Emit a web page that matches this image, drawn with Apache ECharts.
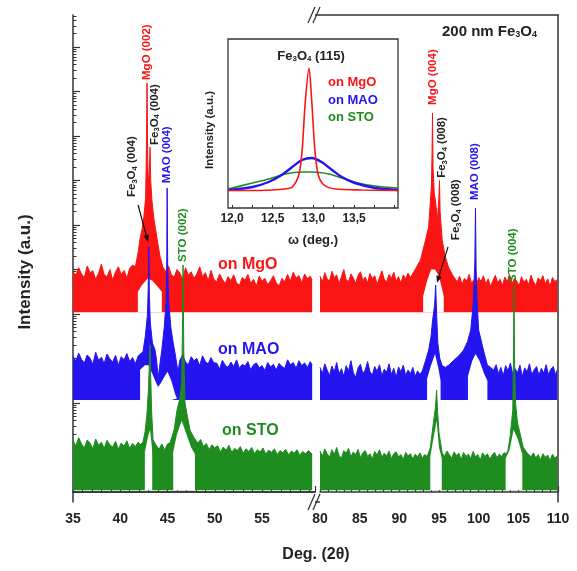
<!DOCTYPE html>
<html>
<head>
<meta charset="utf-8">
<script src="https://cdn.jsdelivr.net/npm/echarts@6.0.0/dist/echarts.min.js"></script>
<style>
  html, body { margin: 0; padding: 0; background: #fff; }
  #chart { width: 577px; height: 571px; }
</style>
</head>
<body>
<div id="chart"></div>
<script>
// XRD 2theta scans, intensity on a log scale: y values are decades (log10 of counts, offset per film)
// each trace: upper edge of the noisy band, and the hollow under the peaks (lower edge)

const redFloor = 4.04
const blueFloor = 2.07
const greenFloor = 0.04

const redLeft = [[35.0,4.95],[35.3,4.86],[35.6,5.04],[35.9,4.90],[36.2,4.82],[36.5,5.08],[36.8,4.93],[37.1,4.97],[37.4,4.78],[37.7,4.91],[38.0,5.12],[38.3,4.88],[38.6,4.84],[38.9,5.00],[39.2,4.76],[39.5,4.95],[39.8,5.06],[40.1,4.89],[40.4,4.98],[40.7,4.81],[41.0,5.03],[41.3,5.10],[41.6,5.06],
  [41.9,5.40],[42.1,5.70],[42.3,5.90],[42.5,6.20],[42.68,6.60],[42.77,7.70],[42.83,9.19],[42.9,7.50],[42.98,6.95],[43.08,7.20],[43.15,7.75],[43.22,7.00],[43.35,6.55],[43.55,6.15],[43.8,5.82],[44.0,5.55],[44.2,5.30],[44.5,5.06],
  [44.8,4.95],[45.1,5.08],[45.4,4.88],[45.7,4.83],[46.0,5.00],[46.3,4.92],[46.6,4.78],[46.9,5.04],[47.2,4.87],[47.5,4.95],[47.8,4.80],[48.1,4.90],[48.4,5.06],[48.7,4.84],[49.0,4.93],[49.3,4.75],[49.6,4.98],[49.9,4.78],[50.2,4.72],[50.5,4.90],[50.8,4.78],[51.1,4.68],[51.4,4.84],[51.7,4.75],[52.0,4.88],[52.3,4.70],[52.6,4.64],[52.9,4.82],[53.2,4.76],[53.5,4.89],[53.8,4.69],[54.1,4.78],[54.4,4.63],[54.7,4.85],[55.0,4.74],[55.3,4.80],[55.6,4.66],[55.9,4.75],[56.2,4.86],[56.5,4.70],[56.8,4.63],[57.1,4.80],[57.4,4.73],[57.7,4.89],[58.0,4.74],[58.3,4.94],[58.6,4.81],[58.9,4.86],[59.2,4.70],[59.5,4.90],[59.8,4.79],[60.1,4.85],[60.3,4.76]]
const redLeftHollow = [[41.86,4.50],[42.3,4.65],[42.9,4.80],[43.4,4.75],[44.0,4.60],[44.4,4.50]]

const redRight = [[80.0,4.85],[80.3,4.72],[80.6,4.93],[80.9,4.79],[81.2,4.74],[81.5,4.96],[81.8,4.82],[82.1,4.88],[82.4,4.68],[82.7,4.84],[83.0,5.00],[83.3,4.77],[83.6,4.73],[83.9,4.90],[84.2,4.81],[84.5,4.69],[84.8,4.87],[85.1,4.95],[85.4,4.76],[85.7,4.83],[86.0,4.70],[86.3,4.91],[86.6,4.80],[86.9,4.86],[87.2,4.67],[87.5,4.82],[87.8,4.97],[88.1,4.78],[88.4,4.72],[88.7,4.89],[89.0,4.80],[89.3,4.94],[89.6,4.74],[89.9,4.84],[90.2,4.69],[90.5,4.88],[90.8,4.79],[91.1,4.92],[91.4,4.82],
  [92.0,5.00],[92.66,5.21],[93.3,5.66],[93.7,5.96],[94.05,6.90],[94.12,7.60],[94.18,8.52],[94.25,7.30],[94.4,6.70],[94.55,6.56],[94.8,6.10],[94.98,6.60],[95.06,7.00],[95.14,6.30],[95.4,5.66],[95.8,5.28],[96.2,5.05],
  [96.7,4.88],[97.0,4.80],[97.3,4.72],[97.6,4.85],[97.9,4.66],[98.2,4.80],[98.5,4.74],[98.8,4.89],[99.1,4.69],[99.4,4.77],[99.7,4.64],[100.0,4.82],[100.3,4.73],[100.6,4.86],[100.9,4.67],[101.2,4.79],[101.5,4.62],[101.8,4.75],[102.1,4.87],[102.4,4.70],[102.7,4.78],[103.0,4.64],[103.3,4.83],[103.6,4.72],[103.9,4.89],[104.2,4.68],[104.5,4.80],[104.8,4.74],[105.1,4.63],[105.4,4.84],[105.7,4.71],[106.0,4.78],[106.3,4.66],[106.6,4.87],[106.9,4.73],[107.2,4.64],[107.5,4.81],[107.8,4.75],[108.1,4.86],[108.4,4.68],[108.7,4.79],[109.0,4.62],[109.3,4.82],[109.6,4.73],[109.9,4.77]]
const redRightHollow = [[93.0,4.40],[93.5,4.75],[94.0,5.00],[94.5,5.00],[95.0,4.85],[95.6,4.40]]

const blueLeft = [[35.0,3.05],[35.3,2.94],[35.6,3.12],[35.9,2.98],[36.2,2.90],[36.5,3.08],[36.8,3.01],[37.1,2.87],[37.4,3.14],[37.7,2.96],[38.0,3.03],[38.3,2.89],[38.6,3.10],[38.9,2.99],[39.2,2.92],[39.5,3.07],[39.8,2.85],[40.1,3.04],[40.4,2.97],[40.7,3.11],[41.0,2.93],[41.3,3.02],[41.6,2.88],[41.9,3.06],
  [42.1,3.05],[42.4,3.15],[42.65,3.50],[42.88,4.00],[42.96,4.60],[43.02,5.51],[43.08,4.40],[43.18,3.80],[43.4,3.35],[43.68,3.19],[43.85,2.95],[44.0,2.55],[44.15,2.80],[44.4,3.20],[44.65,3.70],[44.85,4.30],[44.92,5.20],[44.96,6.83],[45.02,5.00],[45.12,4.30],[45.35,3.70],[45.6,3.35],[45.85,3.05],[46.1,2.70],
  [46.3,2.96],[46.6,3.08],[46.9,2.92],[47.2,2.86],[47.5,3.04],[47.8,2.95],[48.1,3.00],[48.4,2.84],[48.7,3.06],[49.0,2.93],[49.3,2.88],[49.6,3.02],[49.9,2.90],[50.2,2.90],[50.5,2.76],[50.8,2.96],[51.1,2.85],[51.4,2.80],[51.7,2.92],[52.0,2.82],[52.3,2.97],[52.6,2.78],[52.9,2.87],[53.2,2.83],[53.5,2.93],[53.8,2.75],[54.1,2.86],[54.4,2.90],[54.7,2.79],[55.0,2.84],[55.3,2.73],[55.6,2.91],[55.9,2.81],[56.2,2.87],[56.5,2.74],[56.8,2.89],[57.1,2.82],[57.4,2.78],[57.7,2.97],[58.0,2.86],[58.3,2.91],[58.6,2.78],[58.9,2.95],[59.2,2.84],[59.5,2.90],[59.8,2.80],[60.1,2.93],[60.3,2.85]]
const blueLeftHollow = [[42.1,2.75],[42.6,2.85],[43.0,2.85],[43.4,2.65],[43.8,2.45],[44.0,2.36],[44.3,2.45],[44.7,2.60],[45.0,2.70],[45.4,2.50],[45.8,2.20],[46.0,2.10]]

const blueRight = [[80.0,2.80],[80.3,2.66],[80.6,2.88],[80.9,2.74],[81.2,2.62],[81.5,2.83],[81.8,2.70],[82.1,2.91],[82.4,2.65],[82.7,2.77],[83.0,2.60],[83.3,2.84],[83.6,2.72],[83.9,2.95],[84.2,2.68],[84.5,2.58],[84.8,2.79],[85.1,2.87],[85.4,2.66],[85.7,2.74],[86.0,2.93],[86.3,2.70],[86.6,2.63],[86.9,2.82],[87.2,2.71],[87.5,2.86],[87.8,2.61],[88.1,2.76],[88.4,2.69],[88.7,2.88],[89.0,2.64],[89.3,2.78],[89.6,2.58],[89.9,2.81],[90.2,2.70],[90.5,2.85],[90.8,2.62],[91.1,2.74],[91.4,2.66],[91.7,2.80],[92.0,2.60],[92.3,2.72],[92.6,2.64],
  [92.9,2.72],[93.3,2.95],[93.7,3.19],[94.0,3.50],[94.2,3.87],[94.45,4.20],[94.58,4.65],[94.7,4.00],[94.85,3.35],[95.1,3.00],[95.4,2.84],[95.8,2.80],[96.3,2.86],[96.8,2.95],[97.3,3.03],[97.7,3.10],[98.1,3.19],[98.6,3.38],[99.0,3.64],[99.35,4.30],[99.52,5.20],[99.6,6.38],[99.68,5.00],[99.8,4.30],[100.0,3.64],[100.6,3.19],[101.1,2.85],[101.5,2.80],
  [101.9,2.74],[102.2,2.86],[102.5,2.66],[102.8,2.80],[103.1,2.61],[103.4,2.84],[103.7,2.72],[104.0,2.90],[104.3,2.64],[104.6,2.77],[104.9,2.68],[105.2,2.85],[105.5,2.60],[105.8,2.79],[106.1,2.70],[106.4,2.88],[106.7,2.63],[107.0,2.75],[107.3,2.82],[107.6,2.62],[107.9,2.78],[108.2,2.67],[108.5,2.86],[108.8,2.64],[109.1,2.76],[109.4,2.82],[109.7,2.63],[109.9,2.74]]
const blueRightHollow = [[93.5,2.55],[94.0,2.85],[94.5,3.10],[94.9,2.80],[95.2,2.50],[96.9,null],[98.65,2.60],[99.2,2.95],[99.6,3.10],[100.1,2.95],[100.7,2.65],[101.1,2.50]]

const greenLeft = [[35.0,1.15],[35.3,1.04],[35.6,1.22],[35.9,1.08],[36.2,0.99],[36.5,1.17],[36.8,1.10],[37.1,0.97],[37.4,1.19],[37.7,1.05],[38.0,1.12],[38.3,0.98],[38.6,1.16],[38.9,1.06],[39.2,1.01],[39.5,1.14],[39.8,0.96],[40.1,1.10],[40.4,1.03],[40.7,1.15],[41.0,0.98],[41.3,1.09],[41.6,1.02],[41.9,1.12],[42.1,1.06],
  [42.4,1.12],[42.62,1.35],[42.8,1.69],[42.98,2.30],[43.08,2.90],[43.15,3.30],[43.22,2.60],[43.32,1.80],[43.47,1.17],[43.8,1.05],[44.1,0.96],[44.4,1.08],[44.7,0.94],[45.0,1.08],[45.26,1.10],[45.7,1.40],[46.0,1.84],[46.3,2.10],[46.5,2.46],[46.58,3.60],[46.64,5.10],[46.72,3.20],[46.85,2.00],[47.1,1.70],[47.38,1.39],[47.8,1.22],
  [48.2,1.10],[48.5,1.18],[48.8,1.02],[49.1,1.09],[49.4,0.95],[49.7,1.06],[50.0,0.99],[50.3,1.04],[50.6,0.90],[50.9,1.01],[51.2,0.94],[51.5,1.05],[51.8,0.89],[52.1,0.98],[52.4,0.93],[52.7,1.02],[53.0,0.87],[53.3,0.97],[53.6,0.91],[53.9,1.00],[54.2,0.86],[54.5,0.95],[54.8,0.90],[55.1,0.99],[55.4,0.85],[55.7,0.94],[56.0,0.89],[56.3,0.97],[56.6,0.84],[56.9,0.93],[57.2,0.88],[57.5,0.96],[57.8,0.83],[58.1,0.92],[58.4,0.87],[58.7,0.95],[59.0,0.82],[59.3,0.91],[59.6,0.86],[59.9,0.93],[60.3,0.85]]
const greenLeftHollow = [[42.6,0.90],[43.0,1.30],[43.15,1.40],[43.35,1.00],[43.38,0.80],[44.5,null],[45.6,0.90],[46.0,1.30],[46.5,1.60],[47.0,1.30],[47.5,1.00],[47.9,0.85]]

const greenRight = [[80.0,0.92],[80.3,0.80],[80.6,0.97],[80.9,0.86],[81.2,0.78],[81.5,0.95],[81.8,0.84],[82.1,1.00],[82.4,0.82],[82.7,0.76],[83.0,0.93],[83.3,0.87],[83.6,0.98],[83.9,0.79],[84.2,0.90],[84.5,0.84],[84.8,0.96],[85.1,0.77],[85.4,0.88],[85.7,0.93],[86.0,0.80],[86.3,0.86],[86.6,0.74],[86.9,0.91],[87.2,0.83],[87.5,0.95],[87.8,0.78],[88.1,0.87],[88.4,0.81],[88.7,0.92],[89.0,0.75],[89.3,0.86],[89.6,0.90],[89.9,0.79],[90.2,0.84],[90.5,0.73],[90.8,0.89],[91.1,0.81],[91.4,0.86],[91.7,0.74],[92.0,0.85],[92.3,0.79],[92.6,0.88],[92.9,0.76],[93.2,0.84],[93.5,0.80],
  [93.9,0.99],[94.3,1.56],[94.55,1.90],[94.7,2.29],[94.82,1.80],[95.0,1.33],
  [95.4,0.88],[95.7,0.80],[96.0,0.92],[96.3,0.84],[96.6,0.76],[96.9,0.90],[97.2,0.82],[97.5,0.87],[97.8,0.73],[98.1,0.89],[98.4,0.80],[98.7,0.85],[99.0,0.75],[99.3,0.91],[99.6,0.79],[99.9,0.84],[100.2,0.72],[100.5,0.88],[100.8,0.80],[101.1,0.86],[101.4,0.74],[101.7,0.83],[102.0,0.89],[102.3,0.77],[102.6,0.85],[102.9,0.80],[103.2,0.88],[103.5,0.86],
  [103.7,0.94],[104.0,1.30],[104.3,1.84],[104.4,3.20],[104.45,4.65],[104.52,3.00],[104.65,2.00],[104.9,1.55],[105.3,1.25],[105.6,1.01],[106.1,0.88],
  [106.6,0.79],[106.9,0.88],[107.2,0.76],[107.5,0.84],[107.8,0.72],[108.1,0.86],[108.4,0.78],[108.7,0.83],[109.0,0.71],[109.3,0.85],[109.6,0.76],[109.9,0.81]]
const greenRightHollow = [[93.9,0.80],[94.3,1.20],[94.7,1.60],[95.0,1.00],[95.35,0.75],[99.0,null],[103.4,0.75],[103.9,0.95],[104.4,1.40],[104.9,1.20],[105.5,0.85]]

// inset: omega rocking curves of Fe3O4 (115), arbitrary units
const insetRed = [[11.95,17.5],[12.2,17.5],[12.5,18],[12.65,19],[12.74,21],[12.82,33],[12.86,56],[12.9,106],[12.946,140],[12.98,106],[13.02,56],[13.06,33],[13.13,23],[13.27,19],[13.6,18],[14.04,17.5]]
const insetBlue = [[11.95,18],[12.25,21],[12.45,26],[12.61,33],[12.74,41],[12.86,48],[12.98,50],[13.1,46],[13.23,38],[13.35,31],[13.51,25],[13.76,20],[14.04,18]]
const insetGreen = [[11.95,19],[12.25,25],[12.45,29],[12.65,34],[12.86,36],[12.98,36],[13.19,34],[13.35,30],[13.55,25],[13.76,22],[14.04,20]]

const leftTicks = [35, 40, 45, 50, 55]
const insetTickLabels = [12, 12.5, 13, 13.5]

const RED = '#fb1414'
const BLUE = '#2414f0'
const GREEN = '#1f8c1f'
const AX = '#333'
const FONT = 'Liberation Sans, Arial, sans-serif'
const YMIN = -0.225
const YMAX = 10.72

const decades = []
const decadeMinors = []
for (let n = 0; n <= 10; n++) {
  decades.push(n)
  for (let k = 2; k <= 9; k++) {
    const v = n + Math.log10(k)
    if (v < YMAX) decadeMinors.push(v)
  }
}

const band = (data, floor, color, xi, yi) => ({
  type: 'line', data, xAxisIndex: xi, yAxisIndex: yi,
  symbol: 'none', showSymbol: false, silent: true, connectNulls: false,
  lineStyle: {color, width: 1},
  areaStyle: {color, opacity: 1, origin: floor}
})
const hollow = (data, floor, xi, yi) => ({
  type: 'line', data, xAxisIndex: xi, yAxisIndex: yi,
  symbol: 'none', showSymbol: false, silent: true, connectNulls: false,
  lineStyle: {width: 0, opacity: 0},
  areaStyle: {color: '#fff', opacity: 1, origin: floor}
})
const insetLine = (data, color, width) => ({
  type: 'line', data, xAxisIndex: 4, yAxisIndex: 3, symbol: 'none', silent: true,
  smooth: 0.3, lineStyle: {color, width}
})

const tickLabel = {color: '#222', fontSize: 14, fontWeight: 'bold', fontFamily: FONT, margin: 10}
const axLine = {show: true, lineStyle: {color: AX, width: 1.5}}
const noSplit = {show: false}

const mainX = (gi, min, max, showLabel) => ({
  gridIndex: gi, type: 'value', min, max, interval: 5, position: 'bottom',
  axisLine: axLine,
  axisTick: {show: true, inside: true, length: 6, lineStyle: {color: AX, width: 1.2}},
  minorTick: {show: true, splitNumber: 5, length: 3, lineStyle: {color: AX, width: 1}},
  splitLine: noSplit,
  axisLabel: {...tickLabel, formatter: v => showLabel(v) ? String(v) : ''}
})
const frameX = (gi, min, max) => ({
  gridIndex: gi, type: 'value', min, max, position: 'top',
  axisLine: axLine, axisTick: {show: false}, axisLabel: {show: false}, splitLine: noSplit
})

const option = {
  animation: false,
  backgroundColor: '#fff',
  grid: [
    {left: 73, top: 15, width: 242, height: 487},
    {left: 320, top: 15, width: 238, height: 487},
    {left: 228, top: 39, width: 170, height: 169, show: true, backgroundColor: '#fff', borderColor: AX, borderWidth: 1.3}
  ],
  xAxis: [
    mainX(0, 35, 60.6, v => leftTicks.includes(v)),
    mainX(1, 80, 110, v => v % 5 === 0),
    frameX(0, 35, 60.6),
    frameX(1, 80, 110),
    {
      gridIndex: 2, type: 'value', min: 11.95, max: 14.04,
      axisLine: {show: false},
      axisTick: {show: true, inside: true, length: 3, customValues: [12, 12.25, 12.5, 12.75, 13, 13.25, 13.5, 13.75, 14], lineStyle: {color: AX}},
      axisLabel: {customValues: insetTickLabels, color: '#222', fontSize: 12, fontWeight: 'bold', fontFamily: FONT, margin: 5,
        formatter: v => v.toFixed(1).replace('.', ',')},
      splitLine: noSplit
    }
  ],
  yAxis: [
    {gridIndex: 0, type: 'value', min: YMIN, max: YMAX, position: 'left', axisLine: axLine,
      axisTick: {show: true, inside: true, length: 7, customValues: decades, lineStyle: {color: AX, width: 1.2}},
      axisLabel: {show: false}, splitLine: noSplit},
    {gridIndex: 0, type: 'value', min: YMIN, max: YMAX, position: 'left', axisLine: {show: false},
      axisTick: {show: true, inside: true, length: 3.5, customValues: decadeMinors, lineStyle: {color: AX, width: 1}},
      axisLabel: {show: false}, splitLine: noSplit},
    {gridIndex: 1, type: 'value', min: YMIN, max: YMAX, position: 'right', axisLine: axLine,
      axisTick: {show: false}, axisLabel: {show: false}, splitLine: noSplit},
    {gridIndex: 2, type: 'value', min: 0, max: 169, axisLine: {show: false},
      axisTick: {show: false}, axisLabel: {show: false}, splitLine: noSplit}
  ],
  series: [
    band(redLeft, redFloor, RED, 0, 0),
    hollow(redLeftHollow, redFloor, 0, 0),
    band(redRight, redFloor, RED, 1, 2),
    hollow(redRightHollow, redFloor, 1, 2),
    band(blueLeft, blueFloor, BLUE, 0, 0),
    hollow(blueLeftHollow, blueFloor, 0, 0),
    band(blueRight, blueFloor, BLUE, 1, 2),
    hollow(blueRightHollow, blueFloor, 1, 2),
    band(greenLeft, greenFloor, GREEN, 0, 0),
    hollow(greenLeftHollow, greenFloor, 0, 0),
    band(greenRight, greenFloor, GREEN, 1, 2),
    hollow(greenRightHollow, greenFloor, 1, 2),
    insetLine(insetGreen, GREEN, 1.6),
    insetLine(insetBlue, BLUE, 2.4),
    insetLine(insetRed, RED, 1.6)
  ]
}

const chart = echarts.init(document.getElementById('chart'), null, {renderer: 'canvas'})
chart.setOption(option)

// peak annotations, anchored in data space (bottom end of the rotated text)
const peakNotes = [
  {grid: 0, at: [42.83, 9.26], text: 'MgO (002)', color: RED},
  {grid: 0, at: [43.65, 7.80], text: 'Fe{s|3}O{s|4} (004)', color: '#222'},
  {grid: 0, at: [41.24, 6.63], text: 'Fe{s|3}O{s|4} (004)', color: '#222'},
  {grid: 0, at: [44.95, 6.94], text: 'MAO (004)', color: BLUE},
  {grid: 0, at: [46.64, 5.17], text: 'STO (002)', color: GREEN},
  {grid: 1, at: [94.25, 8.70], text: 'MgO (004)', color: RED},
  {grid: 1, at: [95.40, 7.06], text: 'Fe{s|3}O{s|4} (008)', color: '#222'},
  {grid: 1, at: [97.15, 5.66], text: 'Fe{s|3}O{s|4} (008)', color: '#222'},
  {grid: 1, at: [99.55, 6.56], text: 'MAO (008)', color: BLUE},
  {grid: 1, at: [104.35, 4.72], text: 'STO (004)', color: GREEN}
]
const arrowNotes = [
  {grid: 0, from: [41.88, 6.45], to: [42.94, 5.62]},
  {grid: 1, from: [96.14, 5.51], to: [94.75, 4.70]}
]

const toPx = (g, pt) => chart.convertToPixel(g === 0 ? {xAxisIndex: 0, yAxisIndex: 0} : {xAxisIndex: 1, yAxisIndex: 2}, pt)

const subRich = size => ({s: {fontSize: size, fontWeight: 'bold', fontFamily: FONT, padding: [Math.round(size * 0.6), 0, 0, 0]}})

const txt = (x, y, text, opts = {}) => ({
  type: 'text', x, y, z: 100, rotation: opts.rotation || 0, silent: true,
  style: {
    text, fill: opts.color || '#222',
    fontSize: opts.size || 14, fontWeight: 'bold', fontFamily: FONT,
    align: opts.align || 'center', textAlign: opts.align || 'center',
    verticalAlign: 'middle', textVerticalAlign: 'middle',
    rich: opts.rich
  }
})

const graphics = []

peakNotes.forEach(n => {
  const p = toPx(n.grid, n.at)
  graphics.push(txt(p[0], p[1], n.text, {rotation: Math.PI / 2, align: 'left', size: 11.5, color: n.color, rich: subRich(7.5)}))
})

arrowNotes.forEach(a => {
  const p0 = toPx(a.grid, a.from)
  const p1 = toPx(a.grid, a.to)
  const ang = Math.atan2(p1[1] - p0[1], p1[0] - p0[0])
  const L = 7, W = 2.8
  const bx = p1[0] - L * Math.cos(ang), by = p1[1] - L * Math.sin(ang)
  const nx = -Math.sin(ang) * W, ny = Math.cos(ang) * W
  graphics.push({type: 'line', z: 100, silent: true, shape: {x1: p0[0], y1: p0[1], x2: bx, y2: by}, style: {stroke: '#111', lineWidth: 1.2}})
  graphics.push({type: 'polygon', z: 100, silent: true, shape: {points: [[p1[0], p1[1]], [bx + nx, by + ny], [bx - nx, by - ny]]}, style: {fill: '#111'}})
})

// axis break marks
const brk = (yc) => [
  {type: 'line', z: 100, silent: true, shape: {x1: 315, y1: yc, x2: 320, y2: yc}, style: {stroke: AX, lineWidth: 1.5}},
  {type: 'line', z: 100, silent: true, shape: {x1: 308, y1: yc + 8, x2: 315, y2: yc - 8}, style: {stroke: AX, lineWidth: 1.3}},
  {type: 'line', z: 100, silent: true, shape: {x1: 313, y1: yc + 8, x2: 320, y2: yc - 8}, style: {stroke: AX, lineWidth: 1.3}}
]
graphics.push(...brk(502), ...brk(15))

graphics.push(
  txt(25, 272, 'Intensity (a.u.)', {rotation: Math.PI / 2, size: 17}),
  txt(316, 555, 'Deg. (2θ)', {size: 16}),
  txt(442, 32, '200 nm Fe{s|3}O{s|4}', {align: 'left', size: 15, rich: subRich(9)}),
  txt(218, 265, 'on MgO', {align: 'left', size: 16, color: RED}),
  txt(218, 350, 'on MAO', {align: 'left', size: 16, color: BLUE}),
  txt(222, 431, 'on STO', {align: 'left', size: 16, color: GREEN}),
  txt(311, 56, 'Fe{s|3}O{s|4} (115)', {size: 13, rich: subRich(8)}),
  txt(328, 82, 'on MgO', {align: 'left', size: 13, color: RED}),
  txt(328, 100, 'on MAO', {align: 'left', size: 13, color: BLUE}),
  txt(328, 117, 'on STO', {align: 'left', size: 13, color: GREEN}),
  txt(210, 130, 'Intensity (a.u.)', {rotation: Math.PI / 2, size: 11.5}),
  txt(313, 240, 'ω (deg.)', {size: 13})
)

chart.setOption({graphic: {elements: graphics}})
</script>
</body>
</html>
